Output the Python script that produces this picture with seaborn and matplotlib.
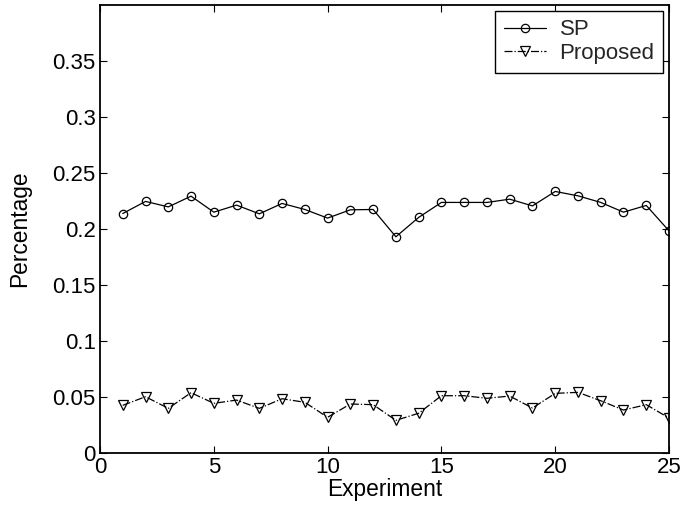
import matplotlib
matplotlib.use("Agg")
import matplotlib.pyplot as plt
import seaborn as sns
import pandas as pd

experiments = list(range(1, 26))
sp = [0.2137, 0.2245, 0.2196, 0.2292, 0.2149, 0.2212, 0.2134, 0.2227, 0.2173, 0.2096,
      0.2170, 0.2173, 0.1929, 0.2102, 0.2236, 0.2236, 0.2236, 0.2265, 0.2205, 0.2334,
      0.2295, 0.2236, 0.2149, 0.2209, 0.1982]
proposed = [0.0423, 0.0500, 0.0396, 0.0536, 0.0441, 0.0470, 0.0396, 0.0482, 0.0450, 0.0316,
            0.0435, 0.0429, 0.0289, 0.0352, 0.0509, 0.0509, 0.0486, 0.0506, 0.0399, 0.0530,
            0.0539, 0.0464, 0.0381, 0.0429, 0.0310]
y_ticks = [0, 0.05, 0.1, 0.15, 0.2, 0.25, 0.3, 0.35]
y_tick_labels = ["0", "0.05", "0.1", "0.15", "0.2", "0.25", "0.3", "0.35"]
x_ticks = [0, 5, 10, 15, 20, 25]

sns.set_style("ticks")
plt.rcParams['font.family'] = ['Liberation Sans', 'DejaVu Sans']

df = pd.DataFrame({"Experiment": experiments, "SP": sp, "Proposed": proposed})

fig = plt.figure(figsize=(6.84, 5.05), dpi=100)
ax = fig.add_axes([0.1462, 0.1036, 0.8319, 0.8865])

sns.lineplot(data=df, x="Experiment", y="SP", ax=ax, color="black", linewidth=0.9,
             marker="o", markersize=6, markerfacecolor="none", markeredgecolor="black",
             markeredgewidth=0.9, label="SP")
sns.lineplot(data=df, x="Experiment", y="Proposed", ax=ax, color="black", linewidth=0.9,
             linestyle="-.", marker="v", markersize=6.5, markerfacecolor="none",
             markeredgecolor="black", markeredgewidth=0.9, label="Proposed")

ax.set_xlim(0, 25)
ax.set_ylim(0, 0.4)
ax.set_xticks(x_ticks)
ax.set_xticklabels([str(t) for t in x_ticks])
ax.set_yticks(y_ticks)
ax.set_yticklabels(y_tick_labels)
ax.tick_params(direction="in", length=5, width=0.8, labelsize=16, top=True, right=True,
               color="black", labelcolor="black", pad=3)
for s in ax.spines.values():
    s.set_visible(True)
    s.set_linewidth(1.3)
    s.set_color("black")

ax.set_xlabel("Experiment", fontsize=16.4, color="black")
ax.set_ylabel("Percentage", fontsize=16.4, color="black")
ax.xaxis.set_label_coords(0.5, -0.056)
ax.yaxis.set_label_coords(-0.121, 0.5)

leg = ax.legend(loc="upper right", fontsize=16, frameon=True, fancybox=False,
                edgecolor="black", framealpha=1, handlelength=1.9, borderpad=0.4,
                labelspacing=0.1, handletextpad=0.6, borderaxespad=0.25)
leg.get_frame().set_linewidth(1.0)

fig.savefig("out.png", dpi=100)
